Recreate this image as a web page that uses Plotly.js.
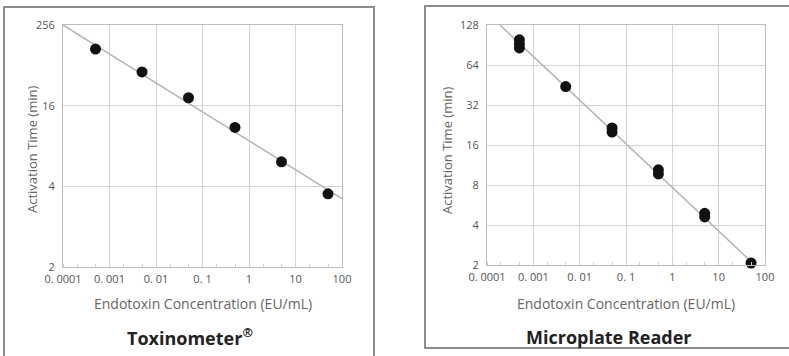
<!DOCTYPE html>
<html>
<head>
<meta charset="utf-8">
<script src="https://cdn.plot.ly/plotly-3.0.1.min.js"></script>
<style>
html,body{margin:0;padding:0;background:#fff;}
#chart{width:789px;height:356px;}
</style>
</head>
<body>
<div id="chart"></div>
<script>
// ---- data ----
const xTickVals = [0.0001, 0.001, 0.01, 0.1, 1, 10, 100];
const xTickText = ['0. 0001', '0. 001', '0. 01', '0. 1', '1', '10', '100'];

// Toxinometer panel (y axis labelled 2, 4, 16, 256 at equally spaced gridlines)
const toxYTicks = [2, 4, 16, 256];
const toxConc = [0.0005, 0.005, 0.05, 0.5, 5, 50];
const toxTime = [112, 51, 21, 11, 6.1, 3.75];
const toxFitConc = [0.0001, 100];
const toxFitTime = [256, 3.6];

// Microplate Reader panel (log2 y axis)
const mpYTicks = [2, 4, 8, 16, 32, 64, 128];
const mpConc = [0.0005, 0.0005, 0.0005, 0.005, 0.05, 0.05, 0.5, 0.5, 5, 5, 50];
const mpTime = [99, 92, 86, 44, 21.5, 20, 10.4, 9.7, 4.9, 4.6, 2.07];
const mpFitConc = [0.00019, 60];
const mpFitTime = [128, 2];

// The left chart's y scale puts its labelled values at equal steps;
// map a time onto that scale (log-interpolated between the labels).
function toxPos(v) {
  const b = toxYTicks;
  let i = 0;
  while (i < b.length - 2 && v > b[i + 1]) i++;
  return i + (Math.log(v) - Math.log(b[i])) / (Math.log(b[i + 1]) - Math.log(b[i]));
}

const W = 789, H = 356;
const px = x => x / W;
const py = y => (H - y) / H;

const grey = '#666';
const tickFont = {family: 'Open Sans, sans-serif', size: 11, color: '#555'};

const traces = [
  {x: toxFitConc, y: toxFitTime.map(toxPos), xaxis: 'x', yaxis: 'y', mode: 'lines',
   line: {color: '#b5b5b5', width: 1.5}, hoverinfo: 'skip', showlegend: false},
  {x: toxConc, y: toxTime.map(toxPos), xaxis: 'x', yaxis: 'y', mode: 'markers',
   marker: {color: '#111', size: 11}, cliponaxis: false, showlegend: false},
  {x: mpFitConc, y: mpFitTime, xaxis: 'x2', yaxis: 'y2', mode: 'lines',
   line: {color: '#b5b5b5', width: 1.5}, hoverinfo: 'skip', showlegend: false},
  {x: mpConc, y: mpTime, xaxis: 'x2', yaxis: 'y2', mode: 'markers',
   marker: {color: '#111', size: 11}, cliponaxis: false, showlegend: false}
];

const xCommon = {
  type: 'log', range: [-4, 2], tickvals: xTickVals, ticktext: xTickText,
  showgrid: true, gridcolor: '#d4d4d4', gridwidth: 1,
  showline: true, linecolor: '#bdbdbd', linewidth: 1, mirror: true,
  ticks: '', tickfont: tickFont, ticklabelstandoff: 2, zeroline: false,
  minor: {ticks: 'inside', ticklen: 3, tickcolor: '#cfcfcf', showgrid: false}
};

function note(text, x, y, size, color, angle) {
  return {text: text, xref: 'paper', yref: 'paper', x: px(x), y: py(y),
    xanchor: 'center', yanchor: 'middle', textangle: angle || 0, showarrow: false,
    font: {family: 'Open Sans, sans-serif', size: size, color: color}};
}

const layout = {
  width: W, height: H,
  margin: {l: 0, r: 0, t: 0, b: 0},
  paper_bgcolor: '#fff', plot_bgcolor: '#fff',
  showlegend: false,
  xaxis: Object.assign({}, xCommon, {domain: [px(63), px(342)], anchor: 'y'}),
  yaxis: {
    domain: [py(267), py(25)], anchor: 'x', range: [0, 3],
    tickvals: toxYTicks.map(toxPos), ticktext: toxYTicks.map(String),
    showgrid: true, gridcolor: '#d4d4d4', gridwidth: 1,
    showline: true, linecolor: '#bdbdbd', linewidth: 1, mirror: true,
    ticks: '', tickfont: tickFont, ticklabelstandoff: 5, zeroline: false
  },
  xaxis2: Object.assign({}, xCommon, {domain: [px(487), px(765)], anchor: 'y2'}),
  yaxis2: {
    domain: [py(265), py(25)], anchor: 'x2', type: 'log',
    range: [Math.log10(2), Math.log10(128)],
    tickvals: mpYTicks, ticktext: mpYTicks.map(String),
    showgrid: true, gridcolor: '#d4d4d4', gridwidth: 1,
    showline: true, linecolor: '#bdbdbd', linewidth: 1, mirror: true,
    ticks: '', tickfont: tickFont, ticklabelstandoff: 5, zeroline: false
  },
  shapes: [
    {type: 'rect', xref: 'paper', yref: 'paper', x0: px(4), x1: px(374), y0: py(370), y1: py(7),
     line: {color: '#8c8c8c', width: 2}, fillcolor: 'rgba(0,0,0,0)', layer: 'below'},
    {type: 'rect', xref: 'paper', yref: 'paper', x0: px(425), x1: px(800), y0: py(348), y1: py(6),
     line: {color: '#8c8c8c', width: 2}, fillcolor: 'rgba(0,0,0,0)', layer: 'below'}
  ],
  annotations: [
    note('Activation Time (min)', 32, 150, 13, grey, -90),
    note('Activation Time (min)', 447, 150, 13, grey, -90),
    note('Endotoxin Concentration (EU/mL)', 203, 303, 14, grey),
    note('Endotoxin Concentration (EU/mL)', 626, 303, 14, grey),
    note('<b>Toxinometer<sup>®</sup></b>', 190, 337, 18, '#222'),
    note('<b>Microplate Reader</b>', 609, 337, 18, '#222')
  ]
};

Plotly.newPlot('chart', traces, layout, {staticPlot: true, displayModeBar: false});
</script>
</body>
</html>
